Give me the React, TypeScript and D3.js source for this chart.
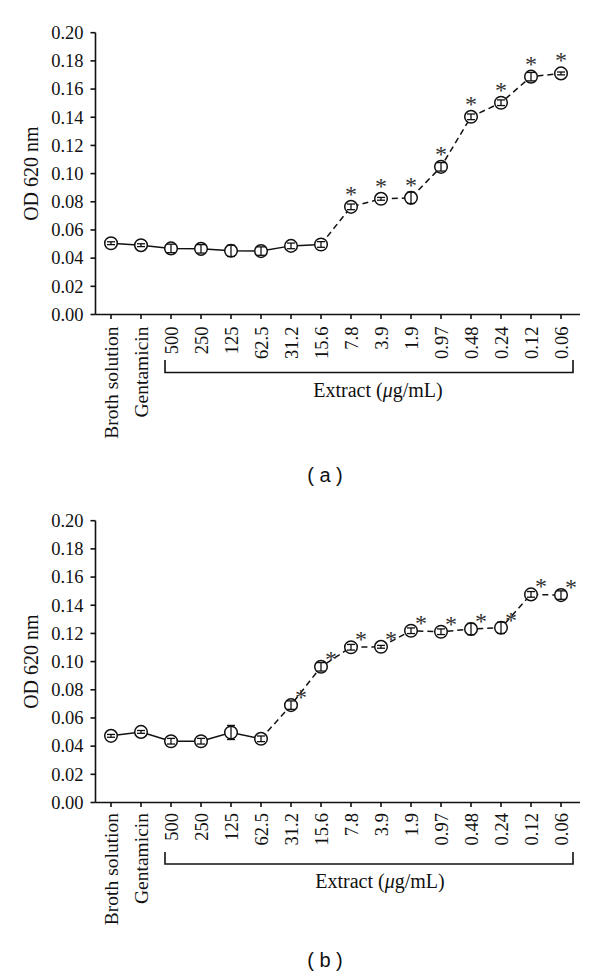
import React from "react";
import * as d3 from "d3";

const categories = ["Broth solution", "Gentamicin", "500", "250", "125", "62.5", "31.2", "15.6", "7.8", "3.9", "1.9", "0.97", "0.48", "0.24", "0.12", "0.06"];
const yTickValues = [0, 0.02, 0.04, 0.06, 0.08, 0.1, 0.12, 0.14, 0.16, 0.18, 0.2];

const valuesA = [0.0506, 0.0492, 0.0469, 0.0466, 0.0452, 0.045, 0.0487, 0.0497, 0.0764, 0.0821, 0.0828, 0.1048, 0.1403, 0.1503, 0.1688, 0.1711];
const errorsA = [0.001, 0.001, 0.003, 0.003, 0.004, 0.003, 0.002, 0.002, 0.002, 0.001, 0.004, 0.003, 0.002, 0.002, 0.003, 0.001];
const starsA = [false, false, false, false, false, false, false, false, true, true, true, true, true, true, true, true];

const valuesB = [0.0473, 0.0501, 0.0435, 0.0435, 0.0497, 0.0452, 0.0691, 0.0963, 0.1102, 0.1105, 0.1219, 0.1212, 0.1231, 0.124, 0.1477, 0.1472];
const errorsB = [0.001, 0.001, 0.002, 0.002, 0.005, 0.002, 0.003, 0.003, 0.002, 0.001, 0.002, 0.002, 0.004, 0.004, 0.002, 0.003];
const starsB = [false, false, false, false, false, false, true, true, true, true, true, true, true, true, true, true];

const serif = "'Liberation Serif', 'Times New Roman', serif";
const sans = "'Liberation Sans', Arial, sans-serif";
const ink = "#111";

type PanelProps = {
  values: number[];
  errors: number[];
  stars: boolean[];
  dashFrom: number;
  yTop: number;
  yBottom: number;
  starDx: number;
  starDy: number;
  bracketTop: number;
  bracketBottom: number;
  extractBaseline: number;
  extractX: number;
  tag: string;
  tagY: number;
  labelGap: number;
};

function Panel(p: PanelProps) {
  const x = d3.scalePoint<string>().domain(categories).range([111, 561]);
  const y = d3.scaleLinear().domain([0, 0.2]).range([p.yBottom, p.yTop]);
  const axisX = 95.5;
  const axisEnd = 580;
  const pts = p.values.map((v, i) => [x(categories[i]) as number, y(v)] as [number, number]);
  const line = d3.line();
  const solid = line(pts.slice(0, p.dashFrom + 1)) || "";
  const dashed = line(pts.slice(p.dashFrom)) || "";
  const fmt = d3.format(".2f");
  const extractCats = categories.slice(2);
  const bx0 = (x(extractCats[0]) as number) - 6;
  const bx1 = (x(extractCats[extractCats.length - 1]) as number) + 12;
  const midY = (p.yTop + p.yBottom) / 2;
  return (
    <g>
      <line x1={axisX} x2={axisX} y1={p.yTop} y2={p.yBottom} stroke={ink} strokeWidth={1.6} />
      {yTickValues.map((t) => (
        <g key={t}>
          <line x1={axisX - 5} x2={axisX} y1={y(t)} y2={y(t)} stroke={ink} strokeWidth={1.6} />
          <text x={83.5} y={y(t)} dy="0.34em" textAnchor="end" fontFamily={serif} fontSize={18.5} fill={ink}>
            {fmt(t)}
          </text>
        </g>
      ))}
      <text
        transform={`translate(38,${midY}) rotate(-90)`}
        textAnchor="middle"
        fontFamily={serif}
        fontSize={20}
        fill={ink}
      >
        OD 620 nm
      </text>
      <line x1={axisX} x2={axisEnd} y1={p.yBottom} y2={p.yBottom} stroke={ink} strokeWidth={1.6} />
      {categories.map((c) => (
        <g key={c}>
          <line x1={x(c)} x2={x(c)} y1={p.yBottom} y2={p.yBottom + 4.5} stroke={ink} strokeWidth={1.6} />
          <text
            transform={`translate(${(x(c) as number) + 6.5},${p.yBottom + p.labelGap}) rotate(-90)`}
            textAnchor="end"
            fontFamily={serif}
            fontSize={c.length > 5 ? 19.5 : 18.5}
            fill={ink}
          >
            {c}
          </text>
        </g>
      ))}
      <path
        d={`M${bx0},${p.bracketTop}V${p.bracketBottom}H${bx1}V${p.bracketTop}`}
        fill="none"
        stroke={ink}
        strokeWidth={1.6}
      />
      <text x={p.extractX} y={p.extractBaseline} textAnchor="middle" fontFamily={serif} fontSize={20} fill={ink}>
        Extract (<tspan fontStyle="italic">μ</tspan>g/mL)
      </text>
      <path d={solid} fill="none" stroke={ink} strokeWidth={1.5} />
      <path d={dashed} fill="none" stroke={ink} strokeWidth={1.5} strokeDasharray="6,4" />
      {pts.map(([cx, cy], i) => (
        <g key={i}>
          <circle cx={cx} cy={cy} r={6.3} fill="#fff" stroke={ink} strokeWidth={1.5} />
          <line x1={cx} x2={cx} y1={y(p.values[i] - p.errors[i])} y2={y(p.values[i] + p.errors[i])} stroke={ink} strokeWidth={1.3} />
          <line x1={cx - 4} x2={cx + 4} y1={y(p.values[i] - p.errors[i])} y2={y(p.values[i] - p.errors[i])} stroke={ink} strokeWidth={1.3} />
          <line x1={cx - 4} x2={cx + 4} y1={y(p.values[i] + p.errors[i])} y2={y(p.values[i] + p.errors[i])} stroke={ink} strokeWidth={1.3} />
          {p.stars[i] && (
            <text x={cx + p.starDx} y={cy + p.starDy} textAnchor="middle" fontFamily={serif} fontSize={24} fill="#333">
              *
            </text>
          )}
        </g>
      ))}
      <text x={325} y={p.tagY} textAnchor="middle" fontFamily={sans} fontSize={20} fill={ink} dy="0.35em">
        ( {p.tag} )
      </text>
    </g>
  );
}

export default function App() {
  return (
    <svg
      width={600}
      height={976}
      style={{ position: "absolute", left: 0, top: 0, background: "#fff" }}
      xmlns="http://www.w3.org/2000/svg"
    >
      <rect width={600} height={976} fill="#fff" />
      <Panel
        values={valuesA}
        errors={errorsA}
        stars={starsA}
        dashFrom={7}
        yTop={32.7}
        yBottom={314.5}
        starDx={0}
        starDy={-5}
        bracketTop={360}
        bracketBottom={372.5}
        extractBaseline={397}
        extractX={378}
        tag="a"
        tagY={475}
        labelGap={12}
      />
      <Panel
        values={valuesB}
        errors={errorsB}
        stars={starsB}
        dashFrom={5}
        yTop={520.7}
        yBottom={802.5}
        starDx={10}
        starDy={0}
        bracketTop={852}
        bracketBottom={864}
        extractBaseline={888}
        extractX={380}
        tag="b"
        tagY={960}
        labelGap={10.5}
      />
    </svg>
  );
}
